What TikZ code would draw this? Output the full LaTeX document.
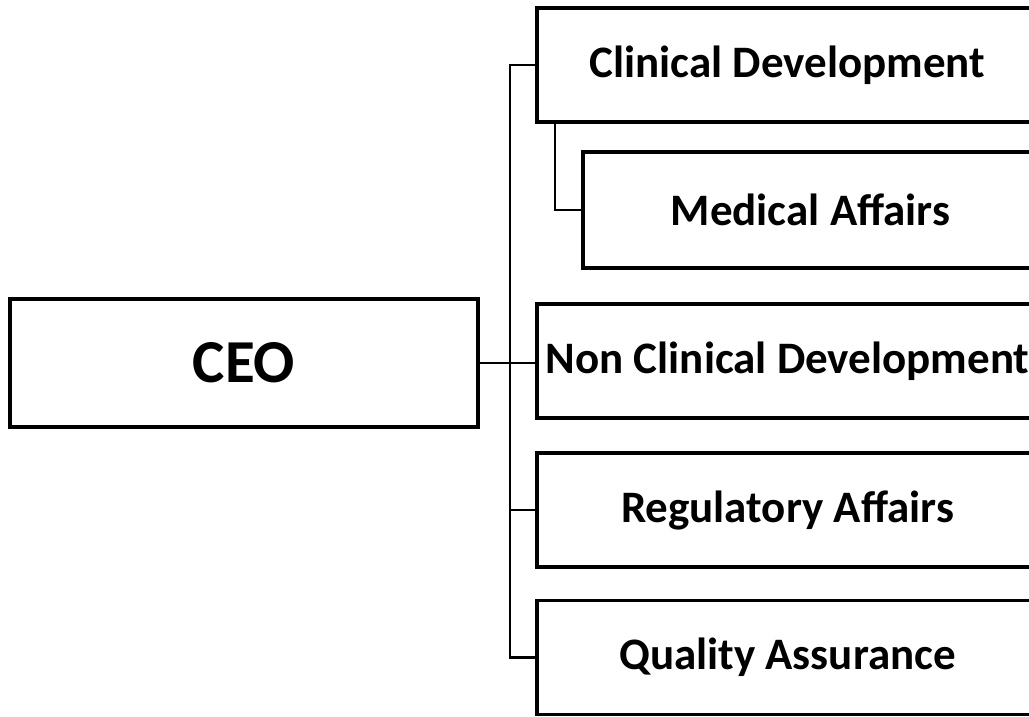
\documentclass[tikz,border=0pt]{standalone}
\usepackage{fontspec}
\setmainfont{Carlito}

\begin{document}
\begin{tikzpicture}[x=1pt,y=-1pt,draw=black,
    unit/.style={draw,line width=3.5pt,inner sep=0pt,minimum width=501pt,minimum height=114pt,font=\bfseries\fontsize{45}{50}\selectfont},
    link/.style={line width=2.2pt}]
            \useasboundingbox (0,0) rectangle (1029,717);
            \clip (0,0) rectangle (1029,717);

            \node[unit,minimum width=468pt,minimum height=128pt,font=\bfseries\fontsize{61}{66}\selectfont] (ceo) at (244,363) {CEO};
            \node[unit] (clin) at (787.5,65) {Clinical Development};
            \node[unit,minimum width=455pt,minimum height=116pt] (med) at (810.5,210) {Medical Affairs};
            \node[unit] (nonclin) at (787.5,361) {Non Clinical Development};
            \node[unit] (reg) at (787.5,510) {Regulatory Affairs};
            \node[unit] (qual) at (787.5,657.5) {Quality Assurance};

            \coordinate (bus) at (510,0);

            \draw[link] (ceo.east) -- (ceo.east -| nonclin.west);
            \draw[link] (clin.west) -- (clin.west -| bus) |- (qual.west);
            \draw[link] (bus |- reg.west) -- (reg.west);
            \draw[link] ([xshift=20pt]clin.south west) |- (med.west);
        \end{tikzpicture}
\end{document}
